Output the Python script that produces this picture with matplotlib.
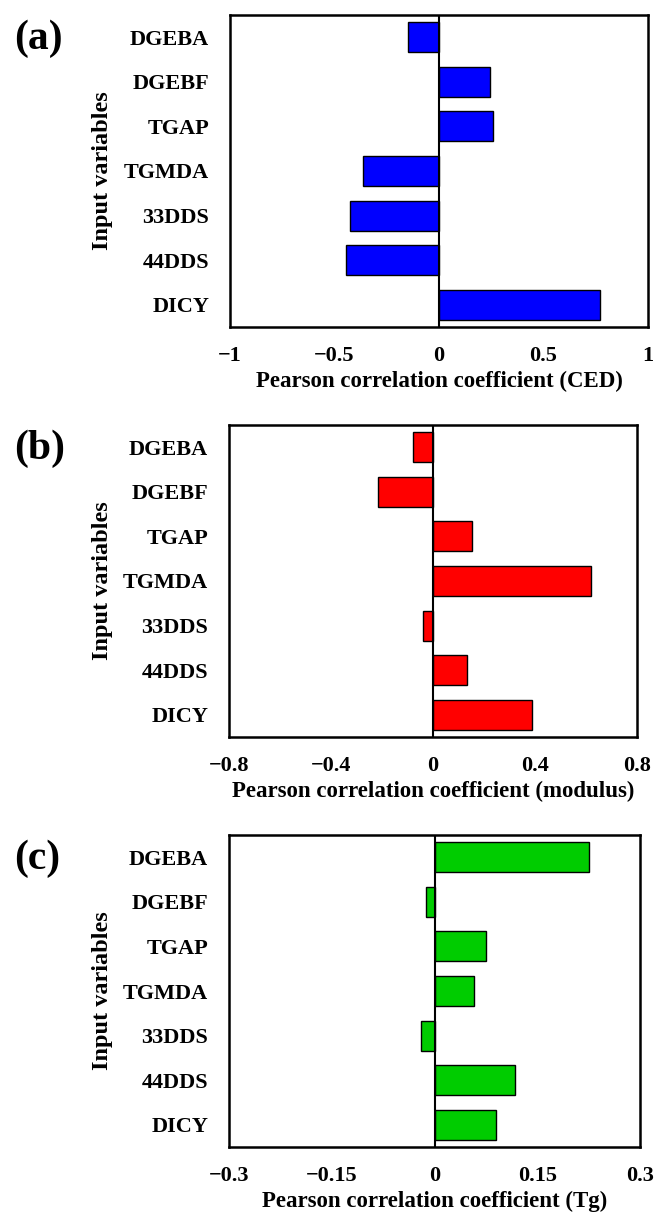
import matplotlib
matplotlib.use("Agg")
import matplotlib.pyplot as plt

# Input variables, top to bottom
VARIABLES = ["DGEBA", "DGEBF", "TGAP", "TGMDA", "33DDS", "44DDS", "DICY"]

# Pearson correlation coefficients
CORR_CED = [-0.148, 0.243, 0.258, -0.364, -0.424, -0.446, 0.769]
CORR_MODULUS = [-0.078, -0.217, 0.154, 0.618, -0.040, 0.135, 0.388]
CORR_TG = [0.225, -0.012, 0.075, 0.057, -0.019, 0.117, 0.090]

PANELS = [
    ("(a)", CORR_CED, "#0000ff", "Pearson correlation coefficient (CED)",
     (-1, 1), [-1, -0.5, 0, 0.5, 1], ["\u22121", "\u22120.5", "0", "0.5", "1"]),
    ("(b)", CORR_MODULUS, "#ff0000", "Pearson correlation coefficient (modulus)",
     (-0.8, 0.8), [-0.8, -0.4, 0, 0.4, 0.8], ["\u22120.8", "\u22120.4", "0", "0.4", "0.8"]),
    ("(c)", CORR_TG, "#00cc00", "Pearson correlation coefficient (Tg)",
     (-0.3, 0.3), [-0.3, -0.15, 0, 0.15, 0.3], ["\u22120.3", "\u22120.15", "0", "0.15", "0.3"]),
]

# axes boxes in pixels: left, right, top, bottom
BOXES = [(230, 648, 15, 327), (229, 637, 425, 737), (229, 640, 835, 1147)]

W, H = 655, 1219
plt.rcParams.update({
    "font.family": "Liberation Serif",
    "font.weight": "bold",
    "font.size": 16,
})

fig = plt.figure(figsize=(W / 100, H / 100), dpi=100)
fig.patch.set_facecolor("white")

for (label, vals, color, xlabel, xlim, xticks, xticklabels), (l, r, t, b) in zip(PANELS, BOXES):
    ax = fig.add_axes([l / W, 1 - b / H, (r - l) / W, (b - t) / H])
    ypos = list(range(len(VARIABLES)))
    ax.barh(ypos, vals, height=0.67, color=color, edgecolor="black", linewidth=1.0, zorder=2)
    ax.axvline(0, color="black", linewidth=1.5, zorder=3)
    ax.set_ylim(len(VARIABLES) - 0.5, -0.5)
    ax.set_xlim(*xlim)
    ax.set_yticks(ypos)
    ax.set_yticklabels(VARIABLES, fontsize=16, fontweight="bold")
    ax.set_xticks(xticks)
    ax.set_xticklabels(xticklabels, fontsize=16, fontweight="bold")
    ax.tick_params(axis="x", length=0, pad=14)
    ax.tick_params(axis="y", length=0, pad=15)
    for sp in ax.spines.values():
        sp.set_linewidth(1.8)
    ax.set_xlabel(xlabel, fontsize=16.5, fontweight="bold", labelpad=3)
    ax.set_ylabel("Input variables", fontsize=17.5, fontweight="bold")
    ax.yaxis.set_label_coords((113 - l) / (r - l), 0.5)
    fig.text(14 / W, 1 - (t + 24) / H, label, fontsize=30, fontweight="bold",
             ha="left", va="center")

fig.savefig("out.png", dpi=100)
